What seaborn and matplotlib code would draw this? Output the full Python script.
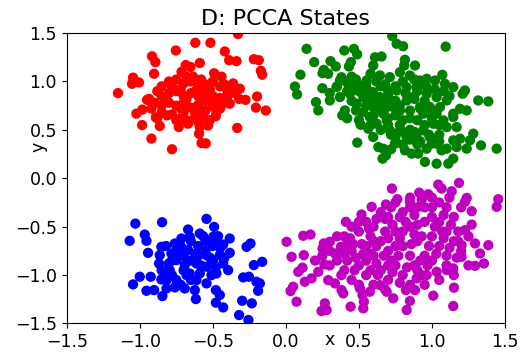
import matplotlib
matplotlib.use("Agg")
import matplotlib.pyplot as plt
import seaborn as sns
import pandas as pd

# ---- data ----
states = ["red", "green", "blue", "magenta"]
state_colors = ["#ff0000", "#008000", "#0000ff", "#bf00bf"]

red_xy = [
    (-0.327, 1.49), (-0.62, 1.40), (-0.516, 1.40), (-0.753, 1.32), (-0.418, 1.31),
    (-0.916, 1.26), (-0.893, 1.20), (-0.388, 1.22), (-0.338, 1.21), (-0.219, 1.23),
    (-0.185, 1.22), (-0.589, 1.19), (-0.685, 1.17), (-0.653, 1.15), (-0.714, 1.10),
    (-0.171, 1.11), (-0.162, 1.07), (-1.046, 1.04), (-1.053, 0.976), (-1.005, 0.99),
    (-0.902, 1.08), (-1.149, 0.88), (-0.635, 1.05), (-0.491, 1.085), (-0.44, 1.05),
    (-0.361, 0.98), (-0.315, 0.925), (-0.276, 0.81), (-0.197, 0.845), (-0.205, 0.73),
    (-0.137, 0.70), (-0.333, 0.52), (-1.023, 0.667), (-0.982, 0.71), (-0.984, 0.55),
    (-0.863, 0.54), (-0.89, 0.63), (-0.92, 0.41), (-0.779, 0.30), (-0.733, 0.53),
    (-0.669, 0.564), (-0.589, 0.53), (-0.594, 0.46), (-0.577, 0.364), (-0.548, 0.36),
    (-0.56, 0.626), (-0.532, 0.546), (-0.726, 0.615), (-0.813, 0.65), (-0.936, 0.82),
    (-0.95, 0.81), (-0.384, 0.77), (-0.475, 0.684), (-0.452, 0.75),
    (-0.85, 0.95), (-0.8, 1.0), (-0.75, 1.02), (-0.7, 0.98), (-0.65, 1.0), (-0.6, 0.95),
    (-0.55, 0.97), (-0.5, 1.0), (-0.45, 0.95), (-0.4, 0.9), (-0.85, 0.85), (-0.8, 0.88),
    (-0.75, 0.9), (-0.7, 0.85), (-0.65, 0.88), (-0.6, 0.85), (-0.55, 0.87), (-0.5, 0.85),
    (-0.45, 0.83), (-0.4, 0.85), (-0.35, 0.88), (-0.9, 0.78), (-0.85, 0.75), (-0.8, 0.78),
    (-0.75, 0.75), (-0.7, 0.78), (-0.65, 0.73), (-0.6, 0.76), (-0.55, 0.8), (-0.5, 0.75),
    (-0.45, 0.72), (-0.85, 0.68), (-0.78, 0.66), (-0.7, 0.68), (-0.62, 0.66), (-0.55, 0.7),
    (-0.48, 0.64), (-0.72, 0.92), (-0.58, 0.9), (-0.42, 0.97), (-0.68, 0.6), (-0.6, 0.58),
    (-0.52, 0.6),
    (-0.88, 0.9), (-0.82, 0.82), (-0.78, 0.95), (-0.72, 0.72), (-0.68, 0.82), (-0.62, 0.9),
    (-0.58, 0.7), (-0.52, 0.92), (-0.48, 0.8), (-0.42, 0.78), (-0.38, 0.95), (-0.68, 1.05),
    (-0.58, 1.02), (-0.92, 0.72), (-0.62, 0.62), (-0.75, 0.6), (-0.88, 0.62), (-0.32, 0.82),
]

green_xy = [
    (0.728, 1.47), (0.758, 1.39), (0.803, 1.364), (1.094, 1.36), (0.142, 1.337),
    (0.40, 1.32), (0.466, 1.337), (0.488, 1.28), (0.445, 1.20), (0.432, 1.155),
    (0.61, 1.25), (0.655, 1.258), (0.598, 1.165), (0.815, 1.224), (0.81, 1.165),
    (0.884, 1.165), (0.194, 1.20), (0.306, 1.21), (0.342, 1.155), (0.26, 1.12),
    (0.251, 1.086), (0.29, 1.08), (0.10, 1.07), (0.062, 0.948), (0.077, 0.866),
    (0.381, 1.044), (0.37, 1.01), (0.416, 0.993), (0.473, 0.976), (0.553, 1.01),
    (0.644, 1.062), (0.712, 1.045), (0.781, 1.096), (0.849, 1.062), (0.918, 1.01),
    (0.964, 1.028), (1.021, 1.01), (1.071, 1.069), (1.089, 0.976), (1.146, 0.942),
    (1.226, 0.907), (1.21, 0.873), (1.317, 0.804), (1.386, 0.794), (1.238, 0.701),
    (1.192, 0.718), (1.146, 0.667), (1.078, 0.598), (1.101, 0.529), (1.169, 0.529),
    (1.283, 0.461), (1.26, 0.392), (1.336, 0.34), (1.443, 0.306), (1.192, 0.409),
    (1.146, 0.392), (1.169, 0.323), (1.238, 0.306), (1.101, 0.306), (1.032, 0.358),
    (0.964, 0.306), (0.906, 0.255), (0.861, 0.255), (0.815, 0.289), (0.747, 0.358),
    (0.667, 0.306), (0.685, 0.237), (0.662, 0.203), (0.633, 0.323), (0.598, 0.426),
    (0.489, 0.368), (0.512, 0.553), (0.564, 0.512), (0.386, 0.65), (0.404, 0.701),
    (0.301, 0.804), (0.206, 0.787), (0.222, 0.701), (0.347, 0.942), (0.37, 0.839),
    (0.438, 0.873), (0.484, 0.77), (0.53, 0.684), (0.575, 0.633), (0.621, 0.564),
    (0.69, 0.598), (0.712, 0.495), (0.781, 0.495), (0.827, 0.426), (0.895, 0.426),
    (0.941, 0.495), (0.986, 0.426), (1.009, 0.564), (1.032, 0.667), (0.941, 0.667),
    (0.918, 0.736), (0.872, 0.839), (0.827, 0.804), (0.781, 0.701), (0.735, 0.736),
    (0.69, 0.804), (0.644, 0.839), (0.598, 0.89), (0.553, 0.925), (0.507, 0.959),
    (0.461, 0.925), (0.53, 0.839), (0.598, 0.736), (0.667, 0.667), (0.758, 0.907),
    (0.827, 0.942), (0.895, 0.942), (0.964, 0.873), (1.032, 0.839), (1.101, 0.804),
    (1.055, 0.736), (0.986, 0.736), (1.146, 0.633), (0.952, 0.169), (1.032, 0.151),
    (1.112, 0.151), (1.146, 0.203), (1.066, 0.289), (0.998, 0.358),
    (0.55, 0.85), (0.65, 0.75), (0.75, 0.8), (0.85, 0.7), (0.9, 0.6), (0.8, 0.6),
    (0.7, 0.55), (0.6, 0.65), (0.5, 0.9), (0.45, 0.8), (0.95, 0.8), (1.0, 0.7),
    (0.85, 0.5), (0.75, 0.65), (0.65, 0.95), (0.7, 0.9), (0.8, 1.0), (0.9, 0.9),
    (0.6, 0.78), (0.72, 0.45), (0.9, 0.35), (0.8, 0.35), (1.05, 0.45), (0.95, 0.55),
    (0.35, 0.95), (0.42, 0.9), (0.48, 1.02), (0.55, 0.97), (0.62, 1.0), (0.68, 0.97),
    (0.75, 0.95), (0.82, 0.88), (0.88, 0.82), (0.95, 0.7), (1.0, 0.62), (1.05, 0.55),
    (0.98, 0.45), (0.88, 0.48), (0.78, 0.55), (0.7, 0.62), (0.62, 0.7), (0.55, 0.75),
    (0.48, 0.7), (0.42, 0.62), (0.5, 0.6), (0.58, 0.55), (0.65, 0.5), (0.75, 0.42),
    (0.85, 0.4), (0.92, 0.38), (0.7, 0.85), (0.78, 0.75), (0.85, 0.62), (0.92, 0.72),
    (0.68, 0.72), (0.58, 0.82), (1.08, 0.9), (1.12, 0.85), (1.02, 0.92), (0.45, 1.05),
    (0.58, 1.08), (0.3, 0.88), (0.25, 0.93), (0.72, 0.3), (0.8, 0.48), (1.05, 0.38),
    (0.88, 1.02), (0.96, 0.95),
]

blue_xy = [
    (-1.03, -0.468), (-0.847, -0.454), (-0.543, -0.419), (-0.491, -0.502), (-0.669, -0.529),
    (-1.069, -0.646), (-0.966, -0.581), (-0.954, -0.646), (-0.943, -0.77), (-0.852, -0.708),
    (-0.863, -0.794), (-0.868, -0.88), (-1.0, -1.017), (-1.046, -1.096), (-0.925, -1.017),
    (-0.954, -1.162), (-0.902, -1.155), (-0.845, -1.217), (-0.852, -1.045), (-0.817, -1.138),
    (-0.76, -0.674), (-0.715, -0.622), (-0.658, -0.605), (-0.589, -0.571), (-0.566, -0.598),
    (-0.498, -0.605), (-0.464, -0.598), (-0.384, -0.622), (-0.429, -0.684), (-0.486, -0.674),
    (-0.384, -0.77), (-0.452, -0.794), (-0.543, -0.794), (-0.612, -0.88), (-0.669, -0.742),
    (-0.726, -0.777), (-0.783, -0.777), (-0.795, -0.949), (-0.749, -0.845), (-0.692, -0.897),
    (-0.658, -0.983), (-0.589, -0.983), (-0.543, -0.914), (-0.498, -0.845), (-0.429, -0.88),
    (-0.395, -0.949), (-0.475, -0.983), (-0.509, -1.0), (-0.543, -1.086), (-0.612, -1.052),
    (-0.692, -1.138), (-0.76, -1.127), (-0.817, -1.052), (-0.623, -1.155), (-0.616, -1.248),
    (-0.479, -1.155), (-0.452, -1.206), (-0.479, -1.285), (-0.429, -1.334), (-0.32, -1.413),
    (-0.256, -1.464), (-0.299, -1.265), (-0.233, -1.292), (-0.292, -1.024), (-0.253, -1.017),
    (-0.201, -1.069), (-0.178, -1.086), (-0.19, -1.162), (-0.219, -0.897), (-0.162, -0.863),
    (-0.269, -0.708), (-0.242, -0.674), (-0.822, -1.0),
    (-0.75, -0.75), (-0.7, -0.8), (-0.65, -0.85), (-0.6, -0.7), (-0.55, -0.75),
    (-0.7, -0.95), (-0.75, -1.05), (-0.65, -1.05), (-0.8, -0.88), (-0.5, -0.7), (-0.6, -0.8),
    (-0.82, -0.7), (-0.78, -0.85), (-0.72, -0.7), (-0.68, -1.0), (-0.62, -0.78),
    (-0.58, -0.9), (-0.52, -0.82), (-0.48, -0.92), (-0.45, -0.72), (-0.72, -1.1),
    (-0.78, -1.0), (-0.65, -0.65), (-0.55, -0.65), (-0.42, -0.82), (-0.85, -0.95),
]

magenta_xy = [
    (0.726, -0.106), (1.043, -0.065), (1.185, -0.048), (1.066, -0.106), (1.135, -0.134),
    (0.913, -0.148), (0.975, -0.165), (1.238, -0.203), (1.226, -0.244), (1.454, -0.216),
    (1.443, -0.295), (0.763, -0.216), (0.849, -0.244), (0.685, -0.271), (0.587, -0.295),
    (0.518, -0.374), (0.411, -0.45), (1.272, -0.34), (1.272, -0.478), (1.226, -0.536),
    (0.005, -0.656), (0.119, -0.594), (0.169, -0.581), (0.039, -0.811), (0.123, -0.794),
    (0.26, -0.673), (0.301, -0.656), (0.251, -0.725), (0.336, -0.777), (0.377, -0.708),
    (0.085, -0.966), (0.114, -0.924), (0.13, -1.069), (0.05, -1.12), (0.032, -1.165),
    (0.073, -1.275), (0.176, -1.034), (0.222, -0.966), (0.263, -0.89), (0.29, -1.052),
    (0.336, -1.086), (0.381, -1.155), (0.393, -1.189), (0.267, -1.292), (0.244, -1.371),
    (0.279, -1.361), (0.443, -1.326), (0.53, -1.344), (0.534, -1.275), (0.525, -1.206),
    (0.507, -1.137), (0.575, -1.172), (0.827, -1.361), (0.849, -1.268), (0.884, -1.155),
    (0.822, -1.155), (0.735, -1.24), (1.009, -1.213), (1.146, -1.32), (1.151, -1.13),
    (1.295, -0.673), (1.386, -0.691), (1.329, -0.777), (1.356, -0.88), (1.295, -0.904),
    (1.203, -0.691), (1.203, -0.811), (1.146, -0.931), (1.101, -0.948), (1.032, -0.966),
    (0.964, -1.0), (0.895, -1.034), (0.644, -1.103), (0.69, -1.172),
    (0.4, -0.6), (0.45, -0.75), (0.5, -0.55), (0.5, -0.9), (0.55, -0.7), (0.55, -1.0),
    (0.6, -0.5), (0.6, -0.8), (0.65, -0.65), (0.65, -0.95), (0.7, -0.4), (0.7, -0.75),
    (0.75, -0.55), (0.75, -0.9), (0.8, -0.35), (0.8, -0.7), (0.8, -1.0), (0.85, -0.5),
    (0.85, -0.8), (0.9, -0.3), (0.9, -0.65), (0.9, -0.95), (0.95, -0.45), (0.95, -0.8),
    (1.0, -0.3), (1.0, -0.6), (1.0, -0.85), (1.05, -0.45), (1.05, -0.7), (1.1, -0.3),
    (1.1, -0.55), (1.1, -0.8), (1.15, -0.4), (1.15, -0.65), (0.35, -0.85), (0.4, -0.95),
    (0.45, -1.05), (0.6, -1.1), (0.7, -1.05), (0.3, -0.9), (1.2, -0.3), (0.85, -0.2),
    (1.0, -0.2), (0.65, -0.35), (0.55, -0.45), (0.45, -0.5), (0.75, -0.25), (0.95, -1.1),
    (1.15, -1.0), (1.25, -0.9), (1.25, -0.6),
    (0.35, -0.6), (0.42, -0.68), (0.48, -0.82), (0.52, -0.68), (0.58, -0.6), (0.62, -0.88),
    (0.68, -0.55), (0.72, -0.85), (0.78, -0.62), (0.82, -0.45), (0.88, -0.58), (0.92, -0.85),
    (0.98, -0.7), (1.02, -0.5), (1.08, -0.62), (1.12, -0.72), (1.18, -0.55), (0.58, -0.95),
    (0.68, -1.15), (0.78, -1.08), (0.88, -0.9), (0.72, -0.3), (0.88, -0.38), (1.05, -0.25),
    (1.12, -0.2), (0.95, -0.3), (0.62, -0.42), (0.5, -0.45), (0.42, -0.85), (0.38, -1.0),
    (0.5, -1.1), (0.62, -0.7), (0.75, -0.7), (0.85, -1.1), (1.05, -1.05), (1.2, -0.75),
    (0.3, -0.75), (0.25, -0.8), (0.2, -0.85), (0.55, -0.85),
    (0.4, -0.78), (0.44, -0.62), (0.47, -0.95), (0.53, -0.78), (0.57, -0.52), (0.6, -0.65),
    (0.63, -1.0), (0.67, -0.8), (0.7, -0.62), (0.73, -0.48), (0.77, -0.8), (0.8, -0.55),
    (0.83, -0.92), (0.86, -0.68), (0.9, -0.48), (0.93, -0.6), (0.97, -0.9), (1.0, -0.4),
    (1.03, -0.78), (1.07, -0.55), (1.1, -0.9), (1.13, -0.48), (1.17, -0.82), (0.68, -0.42),
    (0.78, -0.4), (0.93, -0.22), (1.08, -0.38), (0.73, -0.97), (0.93, -1.0), (0.46, -0.68),
    (0.58, -0.78), (0.85, -0.3), (1.18, -0.65), (0.7, -0.9),
]

x_ticks = [-1.5, -1.0, -0.5, 0.0, 0.5, 1.0, 1.5]
y_ticks = [-1.5, -1.0, -0.5, 0.0, 0.5, 1.0, 1.5]
title = "D: PCCA States"

# ---- table ----
rows = []
for name, pts in zip(states, [red_xy, green_xy, blue_xy, magenta_xy]):
    for x, y in pts:
        rows.append({"x": x, "y": y, "state": name})
df = pd.DataFrame(rows)

# ---- figure ----
fig = plt.figure(figsize=(5.22, 3.52), dpi=100)
ax = fig.add_axes([0.1278, 0.081, 0.8396, 0.825])
sns.scatterplot(data=df, x="x", y="y", hue="state", hue_order=states,
                palette=dict(zip(states, state_colors)), s=55, linewidth=0,
                edgecolor="none", alpha=1.0, legend=False, ax=ax)
ax.set_xlim(-1.5, 1.5)
ax.set_ylim(-1.5, 1.5)
ax.set_xticks(x_ticks)
ax.set_yticks(y_ticks)
ax.tick_params(labelsize=12.5)
ax.set_title(title, fontsize=16, pad=6)
ax.set_xlabel("x", fontsize=12.5)
ax.set_ylabel("y", fontsize=12.5)
ax.xaxis.set_label_coords(0.601, -0.025)
ax.yaxis.set_label_coords(-0.045, 0.607)
fig.savefig("out.png", dpi=100)
